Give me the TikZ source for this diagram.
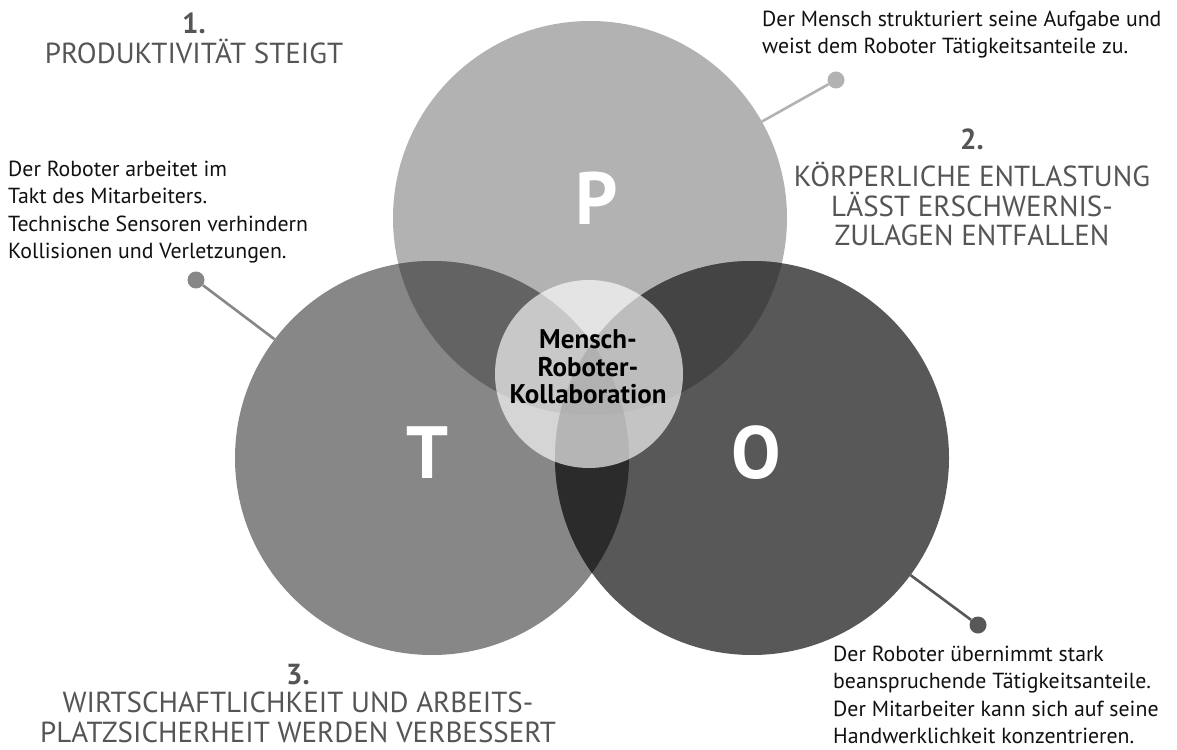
\documentclass[tikz,border=0pt]{standalone}
\usepackage{fontspec}
\setmainfont{PT Sans}
\definecolor{cP}{HTML}{B2B2B2}
\definecolor{cT}{HTML}{878787}
\definecolor{cO}{HTML}{585858}
\definecolor{cPT}{HTML}{636363}
\definecolor{cPO}{HTML}{444444}
\definecolor{cTO}{HTML}{2B2B2B}
\definecolor{cPTO}{HTML}{222222}
\definecolor{headgray}{HTML}{555555}
\definecolor{desctext}{HTML}{111111}
\begin{document}
\begin{tikzpicture}[x=1pt,y=-1pt,
  disc/.style={circle,inner sep=0pt,minimum size=394pt},
  head/.style={font=\fontsize{29}{29.5}\selectfont, text=headgray, align=center, inner sep=0pt},
  desc/.style={font=\fontsize{21.8}{27.3}\selectfont, text=desctext, align=left, inner sep=0pt},
  letter/.style={font=\fontsize{74}{74}\selectfont\bfseries, text=white, inner sep=0pt},
  dotnode/.style={circle, inner sep=0pt, minimum size=17pt},
  link/.style={line width=2.6pt}]
\useasboundingbox (0,0) rectangle (1177,749);
\fill[white] (0,0) rectangle (1177,749);
% main circles
\node[disc,fill=cP] (P) at (590,218) {};
\node[disc,fill=cT] (T) at (432,458) {};
\node[disc,fill=cO] (O) at (752,458) {};
% overlaps
\begin{scope}
  \clip (590,218) circle[radius=197pt];
  \fill[cPT] (432,458) circle[radius=197pt];
\end{scope}
\begin{scope}
  \clip (590,218) circle[radius=197pt];
  \fill[cPO] (752,458) circle[radius=197pt];
\end{scope}
\begin{scope}
  \clip (432,458) circle[radius=197pt];
  \fill[cTO] (752,458) circle[radius=197pt];
\end{scope}
\begin{scope}
  \clip (590,218) circle[radius=197pt];
  \clip (432,458) circle[radius=197pt];
  \fill[cPTO] (752,458) circle[radius=197pt];
\end{scope}
% centre circle
\node[circle,inner sep=0pt,minimum size=188pt,fill=white,fill opacity=0.65] (C) at (589,374) {};
\node[font=\fontsize{27}{27.5}\selectfont\bfseries, text=black, align=center, inner sep=0pt] (Ct) at (588,367) {Mensch-\\Roboter-\\Kollaboration};
% letters
\node[letter,anchor=base] (Pl) at (597,224) {P};
\node[letter,anchor=base] (Tl) at (428,478) {T};
\node[letter,anchor=base] (Ol) at (756,478) {O};
% connectors
\node[dotnode,fill=cP] (dP) at (836,80) {};
\node[dotnode,fill=cT] (dT) at (196,280) {};
\node[dotnode,fill=cO] (dO) at (978,625) {};
\draw[link,cP] (dP) -- (P);
\draw[link,cT] (dT) -- (T);
\draw[link,cO] (dO) -- (O);
% headings
\node[head,anchor=north] (h1) at (194,13) {\textbf{1.}\\[0.5pt]PRODUKTIVITÄT STEIGT};
\node[head,anchor=north] (h2) at (972,129) {\textbf{2.}\\[7.5pt]KÖRPERLICHE ENTLASTUNG\\LÄSST ERSCHWERNIS-\\ZULAGEN ENTFALLEN};
\node[head,anchor=north] (h3) at (298,664) {\textbf{3.}\\[-1.5pt]WIRTSCHAFTLICHKEIT UND ARBEITS-\\PLATZSICHERHEIT WERDEN VERBESSERT};
% descriptions
\node[desc,anchor=north west] (t1) at (762,11) {Der Mensch strukturiert seine Aufgabe und\\weist dem Roboter Tätigkeitsanteile zu.};
\node[desc,anchor=north west] (t2) at (8,161) {Der Roboter arbeitet im\\Takt des Mitarbeiters.\\Technische Sensoren verhindern\\Kollisionen und Verletzungen.};
\node[desc,anchor=north west] (t3) at (833,646) {Der Roboter übernimmt stark\\beanspruchende Tätigkeitsanteile.\\Der Mitarbeiter kann sich auf seine\\Handwerklichkeit konzentrieren.};
\end{tikzpicture}
\end{document}
